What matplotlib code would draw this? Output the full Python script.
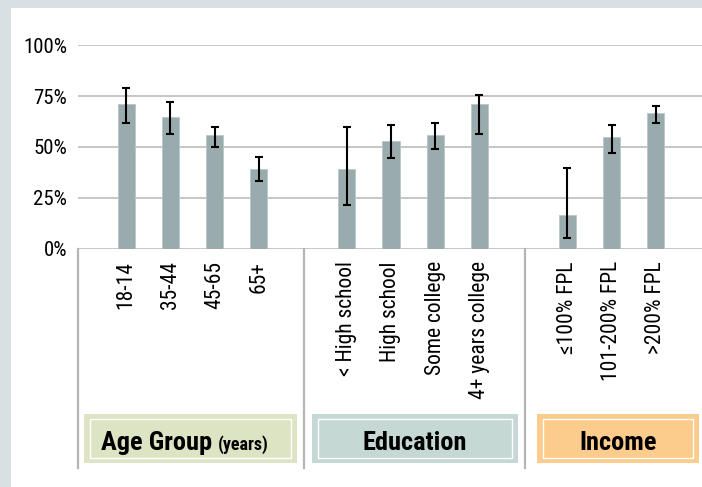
import matplotlib
matplotlib.use("Agg")
import matplotlib.pyplot as plt
from matplotlib.patches import Rectangle
import matplotlib.transforms as mtransforms

FAM = ['Roboto Condensed', 'DejaVu Sans']
plt.rcParams['font.family'] = FAM

# ---- data ----
age_labels = ["18-14", "35-44", "45-65", "65+"]
age_values = [71.3, 64.9, 55.7, 39.2]
age_err_low = [61.6, 56.2, 49.8, 33.3]
age_err_high = [79.2, 72.1, 59.8, 45.2]

edu_labels = ["< High school", "High school", "Some college", "4+ years college"]
edu_values = [39.2, 53.0, 55.7, 71.3]
edu_err_low = [21.5, 44.4, 49.0, 56.4]
edu_err_high = [60.0, 60.8, 62.0, 75.7]

inc_labels = ["≤100% FPL", "101-200% FPL", ">200% FPL"]
inc_values = [16.4, 54.8, 66.7]
inc_err_low = [5.1, 47.2, 62.0]
inc_err_high = [39.8, 60.8, 70.2]

y_ticks = [0, 25, 50, 75, 100]
y_tick_labels = ["0%", "25%", "50%", "75%", "100%"]

group_titles = ["Age Group", "Education", "Income"]
group_colors = ["#dde4c3", "#c5d8d3", "#fbcc8b"]

# ---- layout ----
W, H = 702, 487
fig = plt.figure(figsize=(W / 100, H / 100), dpi=100)
fig.patch.set_facecolor("#d8e0e3")
fig.add_artist(Rectangle((11 / W, 0), 1 - 11 / W, (H - 7.5) / H,
                         transform=fig.transFigure, facecolor="white",
                         edgecolor="none", zorder=0))

ax_left, ax_right = 78, 702
y0_px, y100_px = 248.7, 45.3
ax = fig.add_axes([ax_left / W, (H - y0_px) / H, (ax_right - ax_left) / W,
                   (y0_px - y100_px) / H])
ax.set_facecolor("none")

labels = age_labels + [""] + edu_labels + [""] + inc_labels
values = age_values + [None] + edu_values + [None] + inc_values
lows = age_err_low + [None] + edu_err_low + [None] + inc_err_low
highs = age_err_high + [None] + edu_err_high + [None] + inc_err_high

pos = [i for i, v in enumerate(values) if v is not None]
vals = [values[i] for i in pos]
err = [[values[i] - lows[i] for i in pos], [highs[i] - values[i] for i in pos]]

ax.bar(pos, vals, width=0.39, color="#9aabae", edgecolor="#b9c6c8",
       linewidth=0.6, zorder=2)
ax.errorbar(pos, vals, yerr=err, fmt="none", ecolor="black", elinewidth=1.5,
            capsize=3, capthick=1.5, zorder=3)

ax.set_ylim(0, 100)
ax.set_xlim(-1.095, 13.05)
ax.set_yticks(y_ticks)
ax.set_yticklabels(y_tick_labels, fontsize=15)
ax.tick_params(axis="y", length=0, pad=8)
ax.set_xticks(pos)
ax.set_xticklabels([labels[i] for i in pos], rotation=90, fontsize=15.5,
                   va="top", ha="center")
ax.tick_params(axis="x", length=0, pad=9)
for s in ax.spines.values():
    s.set_visible(False)
for yv in y_ticks:
    ax.axhline(yv, color="#c6c6c6", linewidth=1.4, zorder=1)

# vertical separators extending below axis
trans = mtransforms.blended_transform_factory(ax.transData, ax.transAxes)
bottom_ax = (y0_px - 468) / (y0_px - y100_px)
for xs in [-1.095, 4.02, 9.03]:
    ax.plot([xs, xs], [0, bottom_ax], transform=trans, color="#b5b5b5",
            linewidth=1.6, clip_on=False, zorder=1)

# group title boxes
boxes = [(84, 296.7), (311.7, 517.7), (536.7, 699)]
by_top, by_bot = 414, 463
for (x1, x2), col in zip(boxes, group_colors):
    fig.add_artist(Rectangle((x1 / W, (H - by_bot) / H), (x2 - x1) / W,
                             (by_bot - by_top) / H, transform=fig.transFigure,
                             facecolor=col, edgecolor="none", zorder=1))
    fig.add_artist(Rectangle(((x1 + 6) / W, (H - by_bot + 5) / H),
                             (x2 - x1 - 12) / W, (by_bot - by_top - 10) / H,
                             transform=fig.transFigure, facecolor="none",
                             edgecolor="white", linewidth=1.0, zorder=2))

base_y = (H - 450) / H
fig.text(212 / W, base_y, group_titles[0], fontsize=19, fontweight="bold",
         ha="right", va="baseline", zorder=3)
fig.text(218 / W, base_y, "(years)", fontsize=13, fontweight="bold",
         ha="left", va="baseline", zorder=3)
fig.text((boxes[1][0] + boxes[1][1]) / 2 / W, base_y, group_titles[1],
         fontsize=19, fontweight="bold", ha="center", va="baseline", zorder=3)
fig.text((boxes[2][0] + boxes[2][1]) / 2 / W, base_y, group_titles[2],
         fontsize=19, fontweight="bold", ha="center", va="baseline", zorder=3)

fig.savefig("out.png", dpi=100, facecolor=fig.get_facecolor())
